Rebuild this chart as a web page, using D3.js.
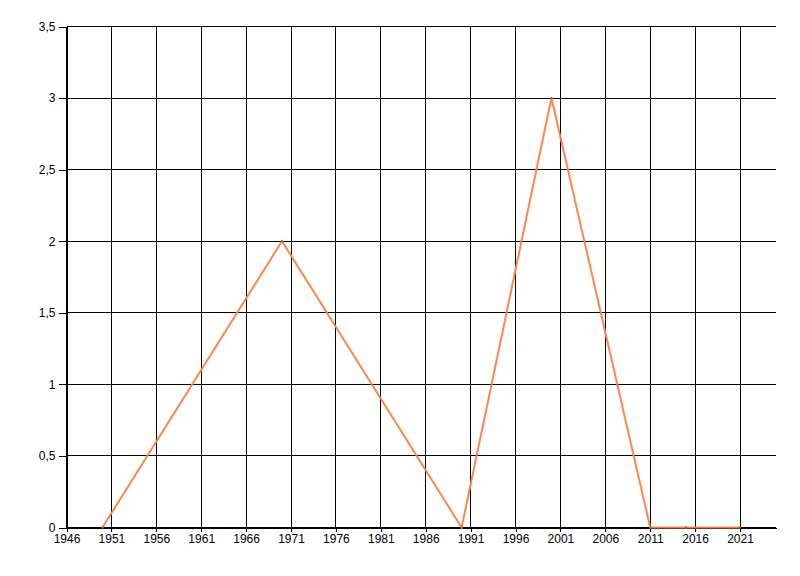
<!DOCTYPE html>
<meta charset="utf-8">
<style>
body { margin: 0; background: #fff; }
.axis text { font-family: "Liberation Sans", Arial, sans-serif; font-size: 12px; fill: #000; }
.axis path, .axis line { stroke: #000; shape-rendering: crispEdges; }
.grid line { stroke: #000; shape-rendering: crispEdges; }
</style>
<svg width="800" height="576"></svg>
<script src="https://cdn.jsdelivr.net/npm/d3@7"></script>
<script>

var years = [1950, 1970, 1990, 2000, 2011, 2015, 2021];
var values = [0, 2, 0, 3, 0, 0, 0];
var xTicks = [1946, 1951, 1956, 1961, 1966, 1971, 1976, 1981, 1986, 1991, 1996, 2001, 2006, 2011, 2016, 2021];
var yTicks = [0, 0.5, 1, 1.5, 2, 2.5, 3, 3.5];

var svg = d3.select("svg"),
    margin = {top: 26.5, right: 24, bottom: 48.5, left: 66.5},
    width = 800 - margin.left - margin.right,
    height = 576 - margin.top - margin.bottom;

// 5 years ~ 44.9px
var pxPerYear = 8.98;
var x = d3.scaleLinear().domain([1946, 1946 + width / pxPerYear]).range([0, width]),
    y = d3.scaleLinear().domain([0, 3.5]).range([height, 0]);

var g = svg.append("g")
    .attr("transform", "translate(" + margin.left + "," + margin.top + ")");

// grid
g.append("g").attr("class", "grid").selectAll("line")
  .data(xTicks).enter().append("line")
  .attr("x1", function(d){ return x(d); }).attr("x2", function(d){ return x(d); })
  .attr("y1", 0).attr("y2", height);

g.append("g").attr("class", "grid").selectAll("line")
  .data(yTicks).enter().append("line")
  .attr("x1", 0).attr("x2", width)
  .attr("y1", function(d){ return y(d); }).attr("y2", function(d){ return y(d); });

var fmt = function(d){ return String(d).replace(".", ","); };

g.append("g")
    .attr("class", "axis axis--x")
    .attr("transform", "translate(0," + height + ")")
    .call(d3.axisBottom(x).tickValues(xTicks).tickFormat(d3.format("d")).tickSize(4).tickSizeOuter(0).tickPadding(3));

g.append("g")
    .attr("class", "axis axis--y")
    .call(d3.axisLeft(y).tickValues(yTicks).tickFormat(fmt).tickSize(8).tickSizeOuter(0).tickPadding(3));

var data = years.map(function(yr, i){ return {x: yr, y: values[i]}; });

var line = d3.line()
    .x(function(d){ return x(d.x); })
    .y(function(d){ return y(d.y); });

g.append("path")
    .datum(data)
    .attr("fill", "none")
    .attr("stroke", "#ff7f45")
    .attr("stroke-width", 2)
    .attr("stroke-opacity", 0.95)
    .attr("d", line);

g.append("g").selectAll("rect")
  .data(data).enter().append("rect")
  .attr("x", function(d){ return x(d.x) - 1; })
  .attr("y", function(d){ return y(d.y) - 1; })
  .attr("width", 2).attr("height", 2)
  .attr("fill", "#8a6a5a");

</script>
